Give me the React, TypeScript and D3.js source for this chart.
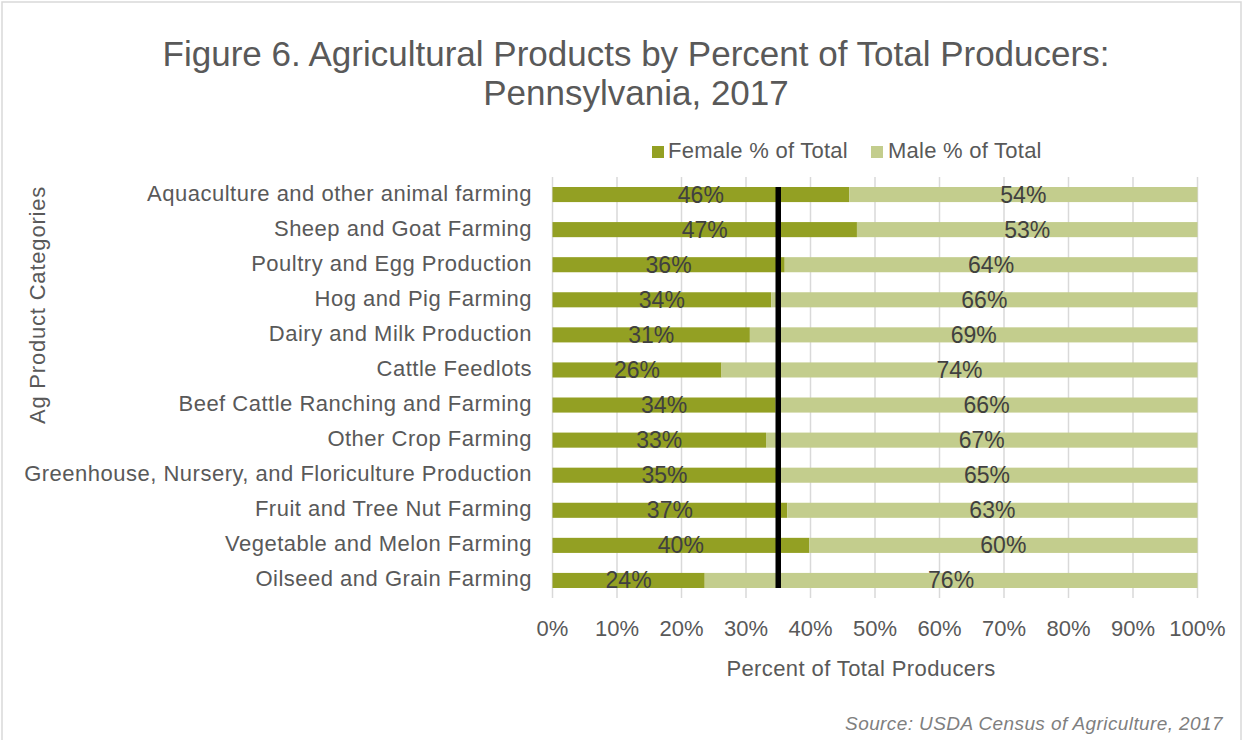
import React from "react";
import * as d3 from "d3";

const categories = [
  "Aquaculture and other animal farming",
  "Sheep and Goat Farming",
  "Poultry and Egg Production",
  "Hog and Pig Farming",
  "Dairy and Milk Production",
  "Cattle Feedlots",
  "Beef Cattle Ranching and Farming",
  "Other Crop Farming",
  "Greenhouse, Nursery, and Floriculture Production",
  "Fruit and Tree Nut Farming",
  "Vegetable and Melon Farming",
  "Oilseed and Grain Farming",
];
const femalePct = [46.0, 47.2, 36.0, 33.9, 30.6, 26.2, 34.6, 33.1, 34.7, 36.4, 39.8, 23.6];
const femaleLabels = ["46%", "47%", "36%", "34%", "31%", "26%", "34%", "33%", "35%", "37%", "40%", "24%"];
const maleLabels = ["54%", "53%", "64%", "66%", "69%", "74%", "66%", "67%", "65%", "63%", "60%", "76%"];
const xTicks = [0, 10, 20, 30, 40, 50, 60, 70, 80, 90, 100];
const referenceLine = 35;
const seriesNames = ["Female % of Total", "Male % of Total"];

const FEMALE = "#93A023";
const MALE = "#C3CD8D";
const FONT = "'Liberation Sans', Arial, sans-serif";

export default function App() {
  const W = 1247;
  const H = 740;
  const x = d3.scaleLinear().domain([0, 100]).range([552.5, 1197.5]);
  const y = d3.scaleBand<string>().domain(categories).range([177, 598]).paddingInner(0.57).paddingOuter(0.285);
  const bw = y.bandwidth();
  const firstTop = y(categories[0])!;
  const lastBottom = y(categories[categories.length - 1])! + bw;

  return (
    <div style={{ position: "absolute", left: 0, top: 0 }}>
      <svg width={W} height={H} style={{ display: "block", fontFamily: FONT }}>
        <rect x={0} y={0} width={W} height={H} fill="#fff" />
        <rect x={2} y={2} width={1239} height={800} fill="none" stroke="#d9d9d9" strokeWidth={1.5} />
        <text x={636} y={66} textAnchor="middle" fontSize={35} fill="#595959">
          Figure 6. Agricultural Products by Percent of Total Producers:
        </text>
        <text x={636} y={105} textAnchor="middle" fontSize={35} fill="#595959">
          Pennsylvania, 2017
        </text>

        {/* legend */}
        <rect x={652} y={146} width={12} height={12} fill={FEMALE} />
        <text x={668} y={158} fontSize={22} letterSpacing={0.25} fill="#595959">{seriesNames[0]}</text>
        <rect x={871} y={146} width={12} height={12} fill={MALE} />
        <text x={888} y={158} fontSize={22} letterSpacing={0.25} fill="#595959">{seriesNames[1]}</text>

        {/* gridlines */}
        {xTicks.map((t) => (
          <line key={t} x1={x(t)} x2={x(t)} y1={177} y2={598} stroke="#d9d9d9" strokeWidth={1.5} />
        ))}

        {/* bars */}
        {categories.map((c, i) => {
          const yy = y(c)!;
          const f = femalePct[i];
          return (
            <g key={c}>
              <rect x={x(0)} y={yy} width={x(f) - x(0)} height={bw} fill={FEMALE} />
              <rect x={x(f)} y={yy} width={x(100) - x(f)} height={bw} fill={MALE} />
            </g>
          );
        })}

        {/* reference line */}
        <line x1={x(referenceLine)} x2={x(referenceLine)} y1={firstTop} y2={lastBottom} stroke="#000" strokeWidth={5.5} />

        {/* data labels */}
        {categories.map((c, i) => {
          const cy = y(c)! + bw / 2 + 8;
          const f = femalePct[i];
          return (
            <g key={"l" + c} fontSize={23} fill="#404040" textAnchor="middle">
              <text x={(x(0) + x(f)) / 2} y={cy}>{femaleLabels[i]}</text>
              <text x={(x(f) + x(100)) / 2} y={cy}>{maleLabels[i]}</text>
            </g>
          );
        })}

        {/* category labels */}
        {categories.map((c) => (
          <text key={"c" + c} x={532} y={y(c)! + bw / 2 + 6} textAnchor="end" fontSize={22} letterSpacing={0.5} fill="#595959">
            {c}
          </text>
        ))}

        {/* x tick labels */}
        {xTicks.map((t) => (
          <text key={"t" + t} x={x(t)} y={636} textAnchor="middle" fontSize={22} fill="#595959">
            {t}%
          </text>
        ))}

        <text x={861} y={676} textAnchor="middle" fontSize={22} letterSpacing={0.4} fill="#595959">
          Percent of Total Producers
        </text>
        <text transform="translate(45,305) rotate(-90)" textAnchor="middle" fontSize={22} letterSpacing={0.8} fill="#595959">
          Ag Product Categories
        </text>

        <text x={1223} y={730} textAnchor="end" fontSize={19} letterSpacing={0.4} fontStyle="italic" fill="#7f7f7f">
          Source: USDA Census of Agriculture, 2017
        </text>
      </svg>
    </div>
  );
}
